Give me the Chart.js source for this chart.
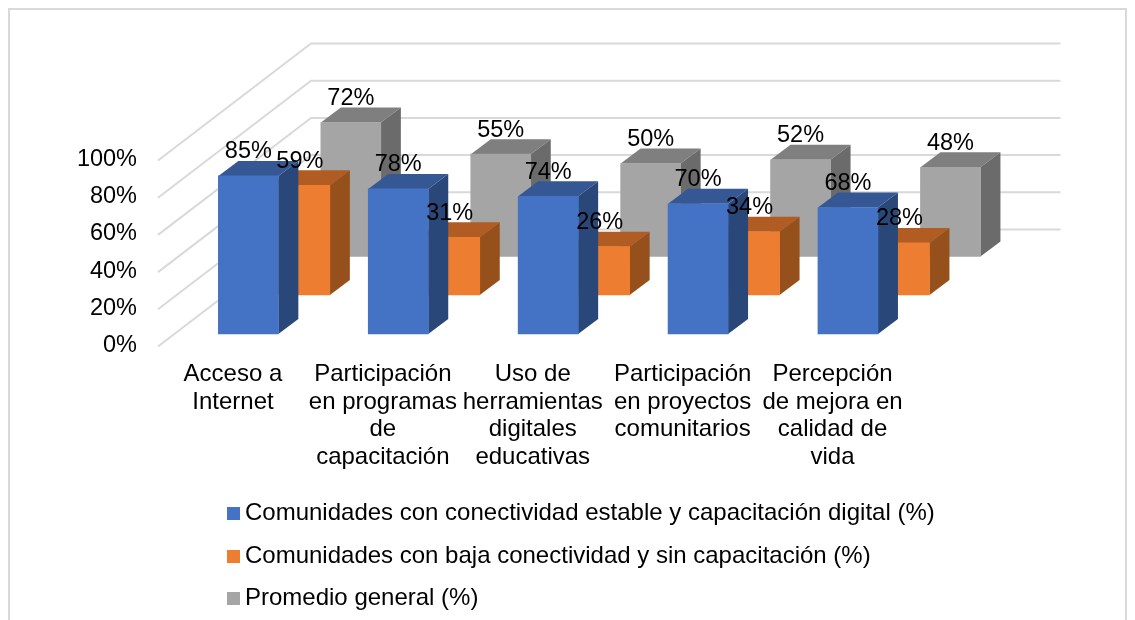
<!DOCTYPE html>
<html lang="es">
<head>
<meta charset="utf-8">
<title>Conectividad y capacitación digital</title>
<script src="https://cdn.jsdelivr.net/npm/chart.js@4"></script>
<style>
    html, body { margin: 0; background: #fff; overflow: hidden; }
    #wrap { position: relative; width: 1135px; height: 620px; }
    #frame { position: absolute; left: 8px; top: 8px; width: 1115px; height: 640px; border: 2px solid #d9d9d9; }
    canvas { position: absolute; left: 0; top: 0; }
    #legend { position: absolute; left: 227px; top: 491px; font: 24px "Liberation Sans", Arial, sans-serif; color: #000; }
    #legend div { height: 42.5px; line-height: 42.5px; white-space: nowrap; }
    #legend i { display: inline-block; width: 13px; height: 13px; margin-right: 5px; }
</style>
</head>
<body>
<div id="wrap">
    <div id="frame"></div>
    <canvas id="myChart" width="1135" height="620"></canvas>
    <div id="legend"></div>
</div>
<script>
const categories = [
    ['Acceso a', 'Internet'],
    ['Participación', 'en programas', 'de', 'capacitación'],
    ['Uso de', 'herramientas', 'digitales', 'educativas'],
    ['Participación', 'en proyectos', 'comunitarios'],
    ['Percepción', 'de mejora en', 'calidad de', 'vida']
]
const seriesNames = [
    'Comunidades con conectividad estable y capacitación digital (%)',
    'Comunidades con baja conectividad y sin capacitación (%)',
    'Promedio general (%)'
]
const estable = [85, 78, 74, 70, 68]
const baja = [59, 31, 26, 34, 28]
const promedio = [72, 55, 50, 52, 48]

const frontColors = ['#4472c4', '#ed7d31', '#a5a5a5']
const topColors = ['#355895', '#b05c22', '#7f7f7f']
const sideColors = ['#2a4779', '#96501c', '#6b6b6b']

// how far each series sits from the front plane, and the depth of one bar
const seriesShift = [[15.4, -12.5], [66.9, -51.5], [117.9, -90]]
const barDepth = [20, -15]
const wallShift = [153, -117]
const fontName = '"Liberation Sans", Arial, sans-serif'

const poly = (ctx, color, pts) => {
    ctx.fillStyle = color
    ctx.beginPath()
    pts.forEach((p, i) => i ? ctx.lineTo(p[0], p[1]) : ctx.moveTo(p[0], p[1]))
    ctx.closePath()
    ctx.fill()
}

const fake3d = {
    id: 'fake3d',
    beforeDatasetsDraw(chart) {
        const { ctx, scales: { y }, chartArea: a } = chart
        const [wx, wy] = wallShift
        ctx.save()
        ctx.strokeStyle = '#d9d9d9'
        ctx.lineWidth = 2
        y.ticks.forEach(t => {
            const py = y.getPixelForValue(t.value)
            ctx.beginPath()
            ctx.moveTo(a.left, py)
            ctx.lineTo(a.left + wx, py + wy)
            ctx.lineTo(a.right + wx, py + wy)
            ctx.stroke()
        })
        ctx.restore()
    },
    beforeDatasetDraw(chart, args) {
        const { ctx } = chart
        const [sx, sy] = seriesShift[args.index]
        const [dx, dy] = barDepth
        ctx.save()
        ctx.translate(sx, sy)
        args.meta.data.forEach(bar => {
            const l = bar.x - bar.width / 2
            const r = bar.x + bar.width / 2
            poly(ctx, topColors[args.index], [[l, bar.y], [r, bar.y], [r + dx, bar.y + dy], [l + dx, bar.y + dy]])
            poly(ctx, sideColors[args.index], [[r, bar.y], [r + dx, bar.y + dy], [r + dx, bar.base + dy], [r, bar.base]])
        })
    },
    afterDatasetDraw(chart) {
        chart.ctx.restore()
    },
    afterDatasetsDraw(chart) {
        const { ctx } = chart
        ctx.save()
        ctx.fillStyle = '#000'
        ctx.font = '23.5px ' + fontName
        ctx.textAlign = 'center'
        ctx.textBaseline = 'middle'
        chart.data.datasets.forEach((ds, i) => {
            chart.getDatasetMeta(i).data.forEach((bar, j) => {
                ctx.fillText(ds.data[j] + '%', bar.x + seriesShift[i][0], bar.y + seriesShift[i][1] - 24)
            })
        })
        ctx.restore()
    }
}

new Chart(document.getElementById('myChart'), {
    type: 'bar',
    data: {
        labels: categories,
        datasets: [estable, baja, promedio].map((values, i) => ({
            label: seriesNames[i],
            data: values,
            backgroundColor: frontColors[i],
            barThickness: 60,
            grouped: false,
            clip: false
        }))
    },
    options: {
        responsive: false,
        animation: false,
        layout: { padding: { left: 0, top: 160.5, right: 227.5, bottom: 0 } },
        plugins: { legend: { display: false }, tooltip: { enabled: false } },
        scales: {
            x: {
                afterFit: s => { s.height = 273.5 },
                grid: { display: false, drawTicks: false },
                border: { display: false },
                ticks: {
                    autoSkip: false,
                    maxRotation: 0,
                    padding: 14.5,
                    color: '#000',
                    font: { family: fontName, size: 24, lineHeight: '27.5px' }
                }
            },
            y: {
                min: 0,
                max: 100,
                afterFit: s => { s.width = 158 },
                grid: { display: false, drawTicks: false },
                border: { display: false },
                ticks: {
                    stepSize: 20,
                    padding: 21,
                    labelOffset: -1,
                    color: '#000',
                    font: { family: fontName, size: 23.5 },
                    callback: v => v + '%'
                }
            }
        }
    },
    plugins: [fake3d]
})

document.getElementById('legend').innerHTML = seriesNames
    .map((name, i) => '<div><i style="background:' + frontColors[i] + '"></i>' + name + '</div>')
    .join('')
</script>
</body>
</html>
